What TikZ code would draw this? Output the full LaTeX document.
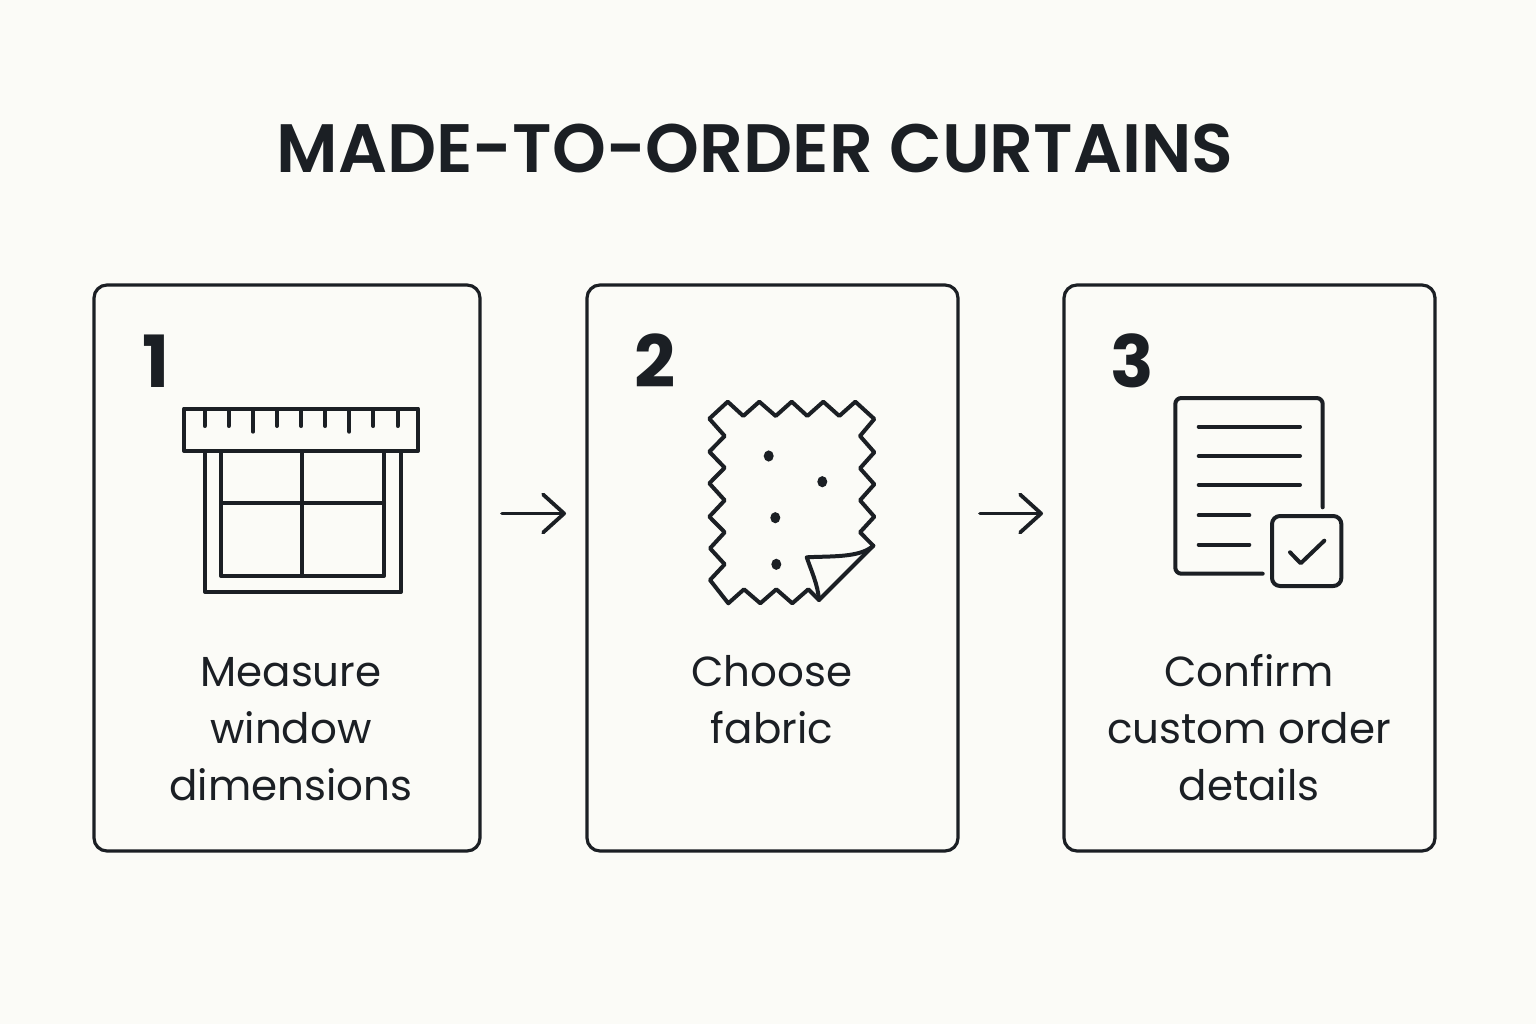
\documentclass[tikz,border=0pt]{standalone}
\usepackage{fontspec}
\setmainfont{Poppins}[BoldFont={Poppins SemiBold}]
\newfontface\numfont{Poppins Bold}
\usetikzlibrary{arrows.meta,positioning}
\definecolor{pagebg}{HTML}{FBFBF7}
\definecolor{ink}{HTML}{1B1F24}

\begin{document}
\begin{tikzpicture}[x=1pt,y=-1pt,
  card/.style={draw=ink,line width=3.2pt,rounded corners=13pt,minimum height=566pt,inner sep=0pt,outer sep=0pt},
  steplabel/.style={text=ink,align=center,inner sep=0pt,font=\fontsize{42}{57}\selectfont},
  stepnum/.style={text=ink,inner sep=0pt,font=\fontsize{72}{72}\numfont},
  flow/.style={draw=ink,line width=3.8pt,line cap=round,shorten <=22pt,shorten >=21pt,-{Straight Barb[round,length=21pt,width=38pt,line width=3.8pt]}},
  icon/.style={draw=ink,line width=4pt,line join=round,line cap=round}]
\useasboundingbox [fill=pagebg] (0,0) rectangle (1536,1024);
\node (title) at (755,148) [text=ink,inner sep=0pt,font=\fontsize{68.5}{72}\selectfont\bfseries] {MADE-TO-ORDER CURTAINS};

\node (card1) at (287,568) [card,minimum width=386pt] {};
\node (card2) at (772.5,568) [card,minimum width=371pt] {};
\node (card3) at (1249.5,568) [card,minimum width=371pt] {};
\coordinate (flowrow) at (0,513.5);
\draw [flow] (card1.east |- flowrow) -- (card2.west |- flowrow);
\draw [flow] (card2.east |- flowrow) -- (card3.west |- flowrow);

\node (num1) at (156,361) [stepnum] {1};
\node (num2) at (655,361) [stepnum] {2};
\node (num3) at (1132,361) [stepnum] {3};

\node (label1) at (291,729) [steplabel] {Measure\\window\\dimensions};
\node (label2) at (772,699.5) [steplabel] {Choose\\fabric};
\node (label3) at (1249,727.5) [steplabel] {Confirm\\custom order\\details};

\draw [icon] (184,408.5) rectangle (418,451);
\draw [icon] (204.7,410) -- (204.7,426);
\draw [icon] (228.7,410) -- (228.7,426);
\draw [icon] (253,410) -- (253,431.7);
\draw [icon] (277,410) -- (277,426);
\draw [icon] (301.3,410) -- (301.3,426);
\draw [icon] (325.3,410) -- (325.3,426);
\draw [icon] (349.3,410) -- (349.3,431.7);
\draw [icon] (373.3,410) -- (373.3,426);
\draw [icon] (397.7,410) -- (397.7,426);
\draw [icon] (205,451) -- (205,592) -- (401,592) -- (401,451);
\draw [icon] (221,451) -- (221,576) -- (384,576) -- (384,451);
\draw [icon] (302.3,451) -- (302.3,576);
\draw [icon] (221,503) -- (384,503);

\draw [icon] (709.3,418.7) -- (727.7,401.7) -- (743.3,416) -- (759.3,401.7) -- (775.7,416) -- (791.7,401.7) -- (807.3,416) -- (823.3,401.7) -- (839.3,416) -- (855.3,401.7) -- (874.3,419)
  -- (860,436) -- (874.3,452.3) -- (860,468.3) -- (874.3,484.3) -- (860,500.3) -- (874.3,516.7) -- (860,532.3) -- (873.3,545.7)
  -- (819,600) -- (808.3,589.3) -- (792.3,603.3) -- (776.3,589.3) -- (760.3,603.3) -- (744,589.3) -- (728.3,603.3)
  -- (710,580) -- (724.7,564.3) -- (710,548.3) -- (724.7,532.3) -- (709.3,516.7) -- (724.7,500.3) -- (709.3,483.3) -- (724.7,467.7) -- (709.3,451.7) -- (724.7,436) -- cycle;
\draw [icon] (819,600) .. controls (818,585) and (811,570) .. (806.7,557.3) .. controls (830,556) and (860,558) .. (873.3,545.7);
\fill [ink] (768.7,456) ellipse [x radius=5,y radius=5.6];
\fill [ink] (822.3,481.7) ellipse [x radius=5,y radius=5.6];
\fill [ink] (775.3,517.7) ellipse [x radius=5,y radius=5.6];
\fill [ink] (776.3,564.3) ellipse [x radius=5,y radius=5.6];

\draw [icon,rounded corners=6pt] (1322.7,507.3) -- (1322.7,398) -- (1175.3,398) -- (1175.3,573.7) -- (1262.7,573.7);
\draw [icon] (1198.7,426.7) -- (1300,426.7);
\draw [icon] (1198.7,456) -- (1300,456);
\draw [icon] (1198.7,485) -- (1300,485);
\draw [icon] (1198.7,515.3) -- (1249.3,515.3);
\draw [icon] (1198.7,544.7) -- (1249.3,544.7);
\draw [icon,rounded corners=8pt] (1272,516) rectangle (1341.3,586);
\draw [icon] (1290,552.3) -- (1300.7,563.3) -- (1324.3,540.7);
\end{tikzpicture}
\end{document}
